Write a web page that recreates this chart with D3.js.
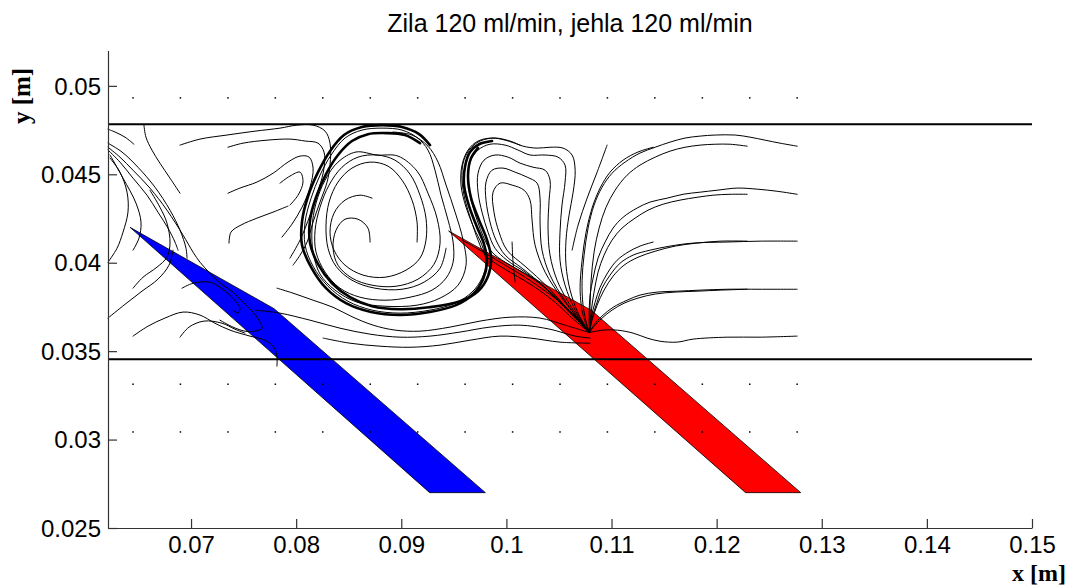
<!DOCTYPE html>
<html><head><meta charset="utf-8">
<script src="https://cdn.jsdelivr.net/npm/d3@7"></script>
<style>body{margin:0;background:#fff}svg{display:block}</style>
</head><body>
<svg id="c" width="1068" height="585"></svg>
<script>
// ---------- data ----------
const titleText = "Zila 120 ml/min, jehla 120 ml/min";
const xLabel = "x [m]";
const yLabel = "y [m]";
const xDomain = [0.0621, 0.15];
const yDomain = [0.025, 0.052];
const xTicks = [0.07, 0.08, 0.09, 0.1, 0.11, 0.12, 0.13, 0.14, 0.15];
const xTickLabels = ["0.07", "0.08", "0.09", "0.1", "0.11", "0.12", "0.13", "0.14", "0.15"];
const yTicks = [0.025, 0.03, 0.035, 0.04, 0.045, 0.05];
const yTickLabels = ["0.025", "0.03", "0.035", "0.04", "0.045", "0.05"];
const wallY = [0.04783, 0.03454];
const gridX = [0.06448,0.06899,0.07351,0.07802,0.08253,0.08705,0.09156,0.09607,0.10059,0.10510,0.10961,0.11412,0.11864,0.12315,0.12766];
const gridY = [0.03043, 0.03313, 0.04932];
const needleBlue = [[0.0642,0.0420],[0.0779,0.0374],[0.0980,0.0270],[0.0927,0.0270]];
const needleRed  = [[0.0945,0.0418],[0.1081,0.0373],[0.1280,0.0270],[0.12275,0.0270]];

const streamFan = [
 [[0.12766,0.04659],[0.12604,0.04676],[0.12461,0.04693],[0.12318,0.04710],[0.12176,0.04722],[0.11986,0.04722],[0.11843,0.04716],[0.11700,0.04705],[0.11557,0.04682],[0.11415,0.04653],[0.11271,0.04620],[0.11129,0.04569],[0.11005,0.04506],[0.10910,0.04427],[0.10834,0.04326],[0.10777,0.04196],[0.10739,0.04043],[0.10720,0.03901],[0.10729,0.03760],[0.10767,0.03647],[0.1079,0.03605]],
 [[0.12290,0.04659],[0.12128,0.04670],[0.11986,0.04670],[0.11843,0.04665],[0.11700,0.04653],[0.11557,0.04631],[0.11415,0.04597],[0.11271,0.04552],[0.11148,0.04495],[0.11034,0.04410],[0.10948,0.04314],[0.10882,0.04196],[0.10834,0.04060],[0.10806,0.03901],[0.10796,0.03760],[0.1079,0.03605]],
 [[0.10958,0.04665],[0.10863,0.04512],[0.10768,0.04365],[0.10682,0.04213],[0.10625,0.04071]],
 [[0.11396,0.04653],[0.11252,0.04626],[0.11110,0.04580],[0.10986,0.04512],[0.10891,0.04422],[0.10815,0.04309],[0.10758,0.04173],[0.10720,0.04014],[0.10701,0.03845],[0.10729,0.03704],[0.1079,0.03605]],
 [[0.12766,0.04387],[0.12576,0.04404],[0.12385,0.04416],[0.12195,0.04422],[0.12005,0.04410],[0.11843,0.04399],[0.11681,0.04387],[0.11529,0.04365],[0.11367,0.04343],[0.11243,0.04309],[0.11110,0.04257],[0.11015,0.04196],[0.10939,0.04117],[0.10872,0.04026],[0.10825,0.03913],[0.10796,0.03817],[0.10787,0.03704],[0.1079,0.03605]],
 [[0.12290,0.04387],[0.12128,0.04387],[0.11967,0.04382],[0.11814,0.04370],[0.11652,0.04354],[0.11491,0.04331],[0.11347,0.04297],[0.11224,0.04252],[0.11100,0.04196],[0.11005,0.04128],[0.10929,0.04043],[0.10872,0.03947],[0.10834,0.03834],[0.10806,0.03721],[0.1079,0.03605]],
 [[0.12766,0.04122],[0.12413,0.04122],[0.12100,0.04117],[0.11776,0.04111],[0.11557,0.04094],[0.11367,0.04071],[0.11205,0.04043],[0.11081,0.03997],[0.10986,0.03930],[0.10910,0.03856],[0.10863,0.03777],[0.10815,0.03687],[0.1079,0.03605]],
 [[0.11396,0.04117],[0.11271,0.04094],[0.11157,0.04060],[0.11053,0.04014],[0.10967,0.03947],[0.10891,0.03861],[0.10844,0.03777],[0.10806,0.03687],[0.1079,0.03605]],
 [[0.12290,0.04122],[0.12033,0.04122],[0.11814,0.04111],[0.11605,0.04094],[0.11415,0.04065],[0.11252,0.04031],[0.11119,0.03986],[0.11015,0.03924],[0.10929,0.03845],[0.10863,0.03760],[0.10815,0.03675],[0.1079,0.03605]],
 [[0.12766,0.03850],[0.12413,0.03850],[0.12100,0.03850],[0.11843,0.03845],[0.11624,0.03839],[0.11434,0.03834],[0.11271,0.03817],[0.11148,0.03788],[0.11015,0.03748],[0.10920,0.03704],[0.10844,0.03658],[0.1079,0.03605]],
 [[0.12290,0.03850],[0.12033,0.03845],[0.11814,0.03839],[0.11605,0.03834],[0.11415,0.03823],[0.11252,0.03800],[0.11119,0.03771],[0.11005,0.03732],[0.10910,0.03687],[0.10834,0.03641],[0.1079,0.03605]],
 [[0.12766,0.03585],[0.12413,0.03579],[0.12100,0.03579],[0.11776,0.03568],[0.11624,0.03551],[0.11462,0.03556],[0.11338,0.03574],[0.11205,0.03602],[0.11053,0.03619],[0.10920,0.03619],[0.1079,0.03605]]
];

const streamSmallVortex = [
 [[0.1079,0.03605],[0.10682,0.03715],[0.10606,0.03845],[0.10567,0.03986],[0.10567,0.04128],[0.10596,0.04269],[0.10635,0.04399],[0.10654,0.04523],[0.10625,0.04609],[0.10539,0.04648],[0.10415,0.04653],[0.10292,0.04648],[0.10159,0.04659],[0.10035,0.04688],[0.09892,0.04705],[0.09749,0.04688],[0.09645,0.04637],[0.09588,0.04563],[0.09578,0.04467],[0.09607,0.04354],[0.09664,0.04241],[0.09730,0.04128],[0.09797,0.04043],[0.09911,0.03991],[0.10083,0.03930],[0.10273,0.03861],[0.10463,0.03777],[0.10625,0.03687],[0.1079,0.03605]],
 [[0.1079,0.03605],[0.10654,0.03732],[0.10558,0.03873],[0.10510,0.04014],[0.10510,0.04173],[0.10529,0.04326],[0.10558,0.04456],[0.10558,0.04552],[0.10491,0.04597],[0.10368,0.04609],[0.10225,0.04609],[0.10111,0.04637],[0.09988,0.04665],[0.09844,0.04670],[0.09730,0.04637],[0.09654,0.04569],[0.09635,0.04467],[0.09664,0.04354],[0.09721,0.04241],[0.09787,0.04139],[0.09863,0.04060],[0.09988,0.04003],[0.10149,0.03947],[0.10339,0.03873],[0.10529,0.03771],[0.10682,0.03675],[0.1079,0.03605]],
 [[0.1079,0.03605],[0.10606,0.03760],[0.10482,0.03901],[0.10415,0.04043],[0.10396,0.04196],[0.10406,0.04354],[0.10415,0.04467],[0.10368,0.04523],[0.10254,0.04540],[0.10130,0.04563],[0.10016,0.04597],[0.09892,0.04609],[0.09787,0.04580],[0.09730,0.04506],[0.09730,0.04399],[0.09768,0.04286],[0.09825,0.04173],[0.09892,0.04082],[0.10006,0.04014],[0.10178,0.03947],[0.10368,0.03856],[0.10558,0.03743],[0.1079,0.03605]],
 [[0.1079,0.03605],[0.10567,0.03777],[0.10415,0.03930],[0.10339,0.04071],[0.10320,0.04230],[0.10320,0.04365],[0.10292,0.04450],[0.10197,0.04484],[0.10083,0.04512],[0.09968,0.04535],[0.09863,0.04523],[0.09806,0.04456],[0.09806,0.04354],[0.09844,0.04230],[0.09901,0.04128],[0.09988,0.04043],[0.10149,0.03969],[0.10368,0.03861],[0.10586,0.03732],[0.1079,0.03605]],
 [[0.1079,0.03605],[0.10529,0.03800],[0.10368,0.03947],[0.10273,0.04099],[0.10244,0.04241],[0.10225,0.04354],[0.10168,0.04410],[0.10054,0.04439],[0.09940,0.04450],[0.09873,0.04399],[0.09882,0.04286],[0.09930,0.04173],[0.10006,0.04071],[0.10178,0.03980],[0.10396,0.03861],[0.10606,0.03721],[0.1079,0.03605]],
 [[0.10054,0.04117],[0.10063,0.04003],[0.10083,0.03890]],
 [[0.09578,0.04128],[0.09749,0.04071],[0.09940,0.04003],[0.10130,0.03936],[0.10320,0.03861],[0.10510,0.03777],[0.10654,0.03698],[0.1079,0.03605]]
];

const streamBigVortex = [
 [[0.10130,0.04665],[0.09988,0.04693],[0.09863,0.04705],[0.09730,0.04688],[0.09635,0.04637],[0.09578,0.04552],[0.09568,0.04439],[0.09616,0.04314],[0.09692,0.04196],[0.09768,0.04099],[0.09806,0.04003],[0.09768,0.03913],[0.09673,0.03834],[0.09512,0.03771],[0.09273,0.03732],[0.08988,0.03715],[0.08722,0.03732],[0.08493,0.03782],[0.08303,0.03867],[0.08161,0.03980],[0.08085,0.04099],[0.08085,0.04230],[0.08142,0.04365],[0.08227,0.04495],[0.08332,0.04609],[0.08465,0.04705],[0.08626,0.04750],[0.08817,0.04761],[0.09007,0.04750],[0.09156,0.04705],[0.09254,0.04637],[0.09321,0.04523],[0.09378,0.04382],[0.09445,0.04241],[0.09493,0.04117],[0.09493,0.04003],[0.09426,0.03913],[0.09292,0.03845],[0.09083,0.03805],[0.08845,0.03788],[0.08607,0.03805],[0.08417,0.03856],[0.08275,0.03947],[0.08189,0.04060],[0.08180,0.04184],[0.08227,0.04314],[0.08313,0.04439],[0.08436,0.04540],[0.08588,0.04597],[0.08769,0.04609],[0.08940,0.04580],[0.09083,0.04501],[0.09178,0.04382],[0.09235,0.04252],[0.09235,0.04128],[0.09178,0.04026],[0.09045,0.03958],[0.08845,0.03918],[0.08636,0.03930],[0.08465,0.03986],[0.08360,0.04071],[0.08322,0.04173],[0.08360,0.04280],[0.08465,0.04354],[0.08607,0.04382],[0.08722,0.04365]],
 [[0.08703,0.04117],[0.08683,0.04196],[0.08588,0.04246],[0.08465,0.04246],[0.08379,0.04184],[0.08351,0.04082],[0.08398,0.03986],[0.08531,0.03913],[0.08722,0.03873],[0.08950,0.03867],[0.09159,0.03907],[0.09311,0.03991],[0.09369,0.04111],[0.09340,0.04252],[0.09254,0.04393],[0.09150,0.04518],[0.08969,0.04603],[0.08769,0.04609],[0.08569,0.04626],[0.08398,0.04569],[0.08275,0.04467],[0.08189,0.04337],[0.08151,0.04196],[0.08161,0.04060],[0.08227,0.03936],[0.08370,0.03845],[0.08579,0.03777],[0.08845,0.03754],[0.09150,0.03760],[0.09369,0.03800],[0.09540,0.03873],[0.09616,0.03986],[0.09588,0.04128],[0.09512,0.04286],[0.09426,0.04439],[0.09350,0.04569],[0.09254,0.04659],[0.09102,0.04722],[0.08921,0.04739]],
 [[0.09150,0.04117],[0.09150,0.04230],[0.09102,0.04354],[0.09007,0.04467],[0.08874,0.04546],[0.08703,0.04569],[0.08531,0.04535],[0.08398,0.04456],[0.08313,0.04343],[0.08284,0.04213],[0.08303,0.04082],[0.08379,0.03980],[0.08531,0.03901],[0.08750,0.03856],[0.09007,0.03850],[0.09216,0.03890],[0.09369,0.03969],[0.09426,0.04082]]
];

const streamBigVortexBundle = [
 [[0.09863,0.04688],[0.09740,0.04670],[0.09654,0.04626],[0.09607,0.04546],[0.09597,0.04439],[0.09645,0.04320],[0.09721,0.04201],[0.09787,0.04105],[0.09816,0.04003],[0.09778,0.03907],[0.09683,0.03823],[0.09521,0.03760],[0.09273,0.03721],[0.08988,0.03704],[0.08712,0.03721],[0.08474,0.03771],[0.08284,0.03856],[0.08142,0.03975],[0.08056,0.04099],[0.08056,0.04235],[0.08113,0.04376],[0.08208,0.04512],[0.08322,0.04631],[0.08455,0.04722],[0.08626,0.04767],[0.08817,0.04778],[0.09007,0.04767],[0.09169,0.04727],[0.09273,0.04665]],
 [[0.09730,0.04648],[0.09664,0.04592],[0.09635,0.04495],[0.09664,0.04365],[0.09740,0.04241],[0.09816,0.04128],[0.09854,0.04026],[0.09825,0.03924],[0.09730,0.03839],[0.09559,0.03782],[0.09264,0.03748],[0.08988,0.03737],[0.08722,0.03754],[0.08512,0.03805],[0.08341,0.03884],[0.08208,0.03992],[0.08132,0.04111],[0.08132,0.04241],[0.08189,0.04370],[0.08284,0.04501],[0.08398,0.04609],[0.08531,0.04688],[0.08683,0.04727],[0.08864,0.04733],[0.09035,0.04722],[0.09178,0.04676]]
];

const streamLeft = [
 [[0.06895,0.04665],[0.07085,0.04699],[0.07342,0.04722],[0.07609,0.04744],[0.07846,0.04761],[0.08008,0.04778],[0.08161,0.04778],[0.08275,0.04744],[0.08322,0.04676],[0.08322,0.04552],[0.08294,0.04456],[0.08227,0.04343],[0.08161,0.04230],[0.08104,0.04117],[0.08037,0.04043],[0.07970,0.03986]],
 [[0.07351,0.04653],[0.07494,0.04676],[0.07723,0.04693],[0.07941,0.04699],[0.08085,0.04688],[0.08208,0.04676],[0.08265,0.04626],[0.08265,0.04535],[0.08218,0.04422],[0.08132,0.04269],[0.08037,0.04128],[0.07941,0.04026]],
 [[0.07351,0.04393],[0.07465,0.04422],[0.07627,0.04456],[0.07780,0.04506],[0.07922,0.04569],[0.08037,0.04603],[0.08123,0.04597],[0.08161,0.04535],[0.08132,0.04427],[0.08056,0.04314],[0.07960,0.04218],[0.07865,0.04145]],
 [[0.07361,0.04111],[0.07380,0.04173],[0.07475,0.04213],[0.07627,0.04252],[0.07780,0.04286],[0.07922,0.04320]],
 [[0.07846,0.04450],[0.07941,0.04490],[0.08037,0.04512],[0.08065,0.04456],[0.08018,0.04382],[0.07941,0.04326]],
 [[0.06552,0.04778],[0.06571,0.04710],[0.06628,0.04637],[0.06704,0.04563],[0.06800,0.04478],[0.06895,0.04393]],
 [[0.06210,0.04755],[0.06277,0.04739],[0.06372,0.04710],[0.06457,0.04670]],
 [[0.06210,0.04653],[0.06324,0.04597],[0.06448,0.04523],[0.06609,0.04422],[0.06771,0.04297],[0.06924,0.04156],[0.07019,0.04060],[0.07085,0.04003],[0.07180,0.03941],[0.07247,0.03901],[0.07304,0.03873],[0.07399,0.03834],[0.07494,0.03777],[0.07590,0.03721],[0.07656,0.03664],[0.07675,0.03630],[0.07609,0.03613],[0.07513,0.03613],[0.07399,0.03636],[0.07275,0.03675]],
 [[0.06210,0.04637],[0.06324,0.04569],[0.06448,0.04478],[0.06581,0.04382],[0.06685,0.04286],[0.06780,0.04196],[0.06847,0.04117],[0.06876,0.04071]],
 [[0.06229,0.04609],[0.06353,0.04478],[0.06476,0.04337],[0.06524,0.04230],[0.06505,0.04139],[0.06448,0.04071]],
 [[0.06210,0.04003],[0.06296,0.04082],[0.06353,0.04173],[0.06400,0.04286],[0.06391,0.04399],[0.06324,0.04512],[0.06229,0.04592]],
 [[0.06210,0.04676],[0.06343,0.04626],[0.06495,0.04540],[0.06657,0.04427],[0.06800,0.04297],[0.06895,0.04184],[0.06952,0.04082],[0.06962,0.04026]],
 [[0.06210,0.03687],[0.06372,0.03765],[0.06533,0.03839],[0.06685,0.03907],[0.06790,0.03986],[0.06828,0.04071]],
 [[0.06448,0.03856],[0.06543,0.03918],[0.06676,0.03975],[0.06771,0.04031],[0.06800,0.04111],[0.06771,0.04224],[0.06704,0.04314],[0.06609,0.04410]],
 [[0.06448,0.03585],[0.06590,0.03641],[0.06752,0.03687],[0.06924,0.03721],[0.07085,0.03704],[0.07227,0.03658],[0.07370,0.03619],[0.07561,0.03585],[0.07704,0.03562],[0.07789,0.03522],[0.07817,0.03471],[0.07817,0.03415]],
 [[0.06895,0.03579],[0.06981,0.03636],[0.07123,0.03670],[0.07294,0.03658],[0.07418,0.03624],[0.07513,0.03602]],
 [[0.06914,0.03856],[0.07019,0.03884],[0.07180,0.03890],[0.07275,0.03861],[0.07389,0.03805],[0.07465,0.03743],[0.07446,0.03715],[0.07399,0.03732]]
];

const streamBelow = [
 [[0.07818,0.03856],[0.07970,0.03828],[0.08161,0.03788],[0.08351,0.03748],[0.08541,0.03692],[0.08732,0.03647],[0.08940,0.03619],[0.09178,0.03613],[0.09464,0.03636],[0.09749,0.03670],[0.10035,0.03692],[0.10320,0.03687],[0.10558,0.03647],[0.1079,0.03605]],
 [[0.07609,0.03732],[0.07846,0.03715],[0.08132,0.03675],[0.08417,0.03630],[0.08703,0.03596],[0.08988,0.03579],[0.09273,0.03585],[0.09559,0.03608],[0.09844,0.03636],[0.10130,0.03647],[0.10415,0.03624],[0.10654,0.03585],[0.10796,0.03574]],
 [[0.08256,0.03574],[0.08512,0.03545],[0.08798,0.03528],[0.09083,0.03522],[0.09369,0.03534],[0.09654,0.03562],[0.09940,0.03585],[0.10225,0.03574],[0.10510,0.03551],[0.10796,0.03545]]
];

// ---------- drawing ----------
const svg = d3.select("#c");
const pL = 108, pR = 1032, pT = 50.5, pB = 528;
const x = d3.scaleLinear().domain(xDomain).range([pL, pR]);
const y = d3.scaleLinear().domain(yDomain).range([pB, pT]);
const FONT = "'Liberation Sans', Arial, Helvetica, sans-serif";
const SERIF = "'Liberation Serif', 'Times New Roman', serif";

svg.append("rect").attr("width", 1068).attr("height", 585).attr("fill", "#fff");

// needles
const poly = d3.line().x(d => x(d[0])).y(d => y(d[1]));
[[needleBlue, "#0000ff"], [needleRed, "#ff0000"]].forEach(([pts, col]) => {
  svg.append("path").attr("d", poly(pts) + "Z").attr("fill", col)
    .attr("stroke", "#000").attr("stroke-width", 0.8).attr("stroke-linejoin", "round");
});

// streamlines
const sl = d3.line().x(d => x(d[0])).y(d => y(d[1])).curve(d3.curveCatmullRom.alpha(0.5));
const gS = svg.append("g").attr("fill", "none").attr("stroke", "#000").attr("stroke-linejoin", "round").attr("stroke-linecap", "round");
[streamFan, streamSmallVortex, streamBigVortex, streamLeft, streamBelow].forEach(group => {
  gS.selectAll(null).data(group).enter().append("path").attr("d", sl).attr("stroke-width", 1);
});
gS.selectAll(null).data(streamBigVortexBundle).enter().append("path").attr("d", sl).attr("stroke-width", 2.6);

// grid dots
const dots = [];
gridY.forEach(gy => gridX.forEach(gx => dots.push([gx, gy])));
svg.append("g").selectAll("rect").data(dots).enter().append("rect")
  .attr("x", d => x(d[0]) - 0.75).attr("y", d => y(d[1]) - 0.75)
  .attr("width", 1.5).attr("height", 1.5).attr("fill", "#000");

// channel walls
svg.append("g").selectAll("line").data(wallY).enter().append("line")
  .attr("x1", x(xDomain[0])).attr("x2", x(xDomain[1]))
  .attr("y1", d => y(d)).attr("y2", d => y(d))
  .attr("stroke", "#000").attr("stroke-width", 2);

// axes
const ax = svg.append("g").attr("transform", `translate(0,${pB})`)
  .call(d3.axisBottom(x).tickValues(xTicks).tickFormat((d, i) => xTickLabels[i])
    .tickSizeInner(-9).tickSizeOuter(0).tickPadding(8));
const ay = svg.append("g").attr("transform", `translate(${pL},0)`)
  .call(d3.axisLeft(y).tickValues(yTicks).tickFormat((d, i) => yTickLabels[i])
    .tickSizeInner(-9).tickSizeOuter(0).tickPadding(7));
[ax, ay].forEach(g => {
  g.attr("font-family", FONT).attr("font-size", 24);
  g.selectAll("path,line").attr("stroke", "#333").attr("stroke-width", 1.2);
  g.selectAll("text").attr("fill", "#000");
});
ay.selectAll("text").attr("dy", "0.34em");

// title and labels
svg.append("text").attr("x", (pL + pR) / 2).attr("y", 32).attr("text-anchor", "middle")
  .attr("font-family", FONT).attr("font-size", 25).attr("fill", "#000").text(titleText);
svg.append("text").attr("text-anchor", "middle").attr("transform", "translate(30,96) rotate(-90)")
  .attr("font-family", SERIF).attr("font-weight", "bold")
  .attr("font-size", 25).attr("fill", "#000").text(yLabel);
svg.append("text").attr("text-anchor", "end").attr("x", 1066).attr("y", 581)
  .attr("font-family", SERIF).attr("font-weight", "bold")
  .attr("font-size", 24).attr("fill", "#000").text(xLabel);
</script>
</body></html>
